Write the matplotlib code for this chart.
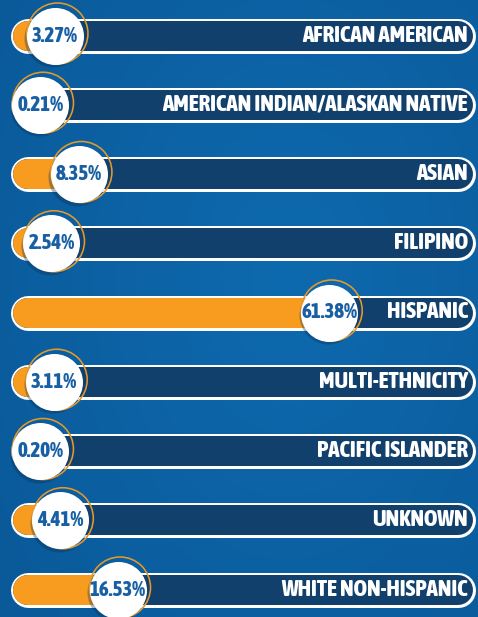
import matplotlib
matplotlib.use("Agg")
import matplotlib.pyplot as plt
import matplotlib.transforms as mtransforms
import numpy as np

categories = ["AFRICAN AMERICAN", "AMERICAN INDIAN/ALASKAN NATIVE", "ASIAN", "FILIPINO",
              "HISPANIC", "MULTI-ETHNICITY", "PACIFIC ISLANDER", "UNKNOWN", "WHITE NON-HISPANIC"]
values = [3.27, 0.21, 8.35, 2.54, 61.38, 3.11, 0.20, 4.41, 16.53]
value_labels = ["3.27%", "0.21%", "8.35%", "2.54%", "61.38%", "3.11%", "0.20%", "4.41%", "16.53%"]

W, H, DPI = 478, 617, 100
PX_PER_UNIT = 4.72
X0 = -39.5 / PX_PER_UNIT
ROW_PX = 69.25
Y_TOP = -35.5 / ROW_PX

fig = plt.figure(figsize=(W / DPI, H / DPI), dpi=DPI)
ax = fig.add_axes([0, 0, 1, 1])
ax.set_xlim(X0, X0 + W / PX_PER_UNIT)
ax.set_ylim(Y_TOP + H / ROW_PX, Y_TOP)
ax.axis("off")

# background gradient
xx, yy = np.meshgrid(np.linspace(-1, 1, 240), np.linspace(-1, 1, 300))
d = np.sqrt(((xx - 0.2) * 0.9) ** 2 + ((yy - 0.1) * 0.8) ** 2)
c_in = np.array([0x0e, 0x6a, 0xae]) / 255
c_out = np.array([0x0a, 0x5a, 0x9a]) / 255
t = np.clip(d / 1.3, 0, 1)[..., None]
img = c_in * (1 - t) + c_out * t
ax.imshow(img, extent=[ax.get_xlim()[0], ax.get_xlim()[1], ax.get_ylim()[0], ax.get_ylim()[1]],
          aspect="auto", zorder=0, origin="lower")

pt = 72 / DPI
bar_start, bar_end = -2.54, 88.56
label_x = 90.78
cond = ["Asap Condensed", "DejaVu Sans"]

for i, (cat, v, lab) in enumerate(zip(categories, values, value_labels)):
    ax.plot([bar_start, bar_end], [i, i], color="white", lw=35 * pt, solid_capstyle="round", zorder=2)
    ax.plot([bar_start, bar_end], [i, i], color="#12406c", lw=30 * pt, solid_capstyle="round", zorder=3)
    ax.plot([bar_start, v], [i, i], color="#f89c1f", lw=30 * pt, solid_capstyle="round", zorder=4)
    # circle shadow
    sh = mtransforms.offset_copy(ax.transData, fig=fig, x=-1.5, y=-2.5, units="dots")
    ax.scatter([v], [i], s=(58 * pt) ** 2, color="#0b2e55", alpha=0.35, lw=0, zorder=5, transform=sh)
    # orange ring
    rt = mtransforms.offset_copy(ax.transData, fig=fig, x=2.5, y=2.0, units="dots")
    ax.scatter([v], [i], s=(61 * pt) ** 2, facecolor="none", edgecolor="#e3992c", lw=1.6 * pt,
               zorder=6, transform=rt)
    ax.scatter([v], [i], s=(57 * pt) ** 2, color="white", lw=0, zorder=7)
    ax.text(v, i, lab, ha="center", va="center", color="#1860a3", fontsize=15,
            fontweight=800, family=cond, zorder=8)
    ax.text(label_x, i, cat, ha="right", va="center", color="white", fontsize=16.6,
            fontweight=800, family=cond, zorder=8)

fig.savefig("out.png", dpi=DPI)
